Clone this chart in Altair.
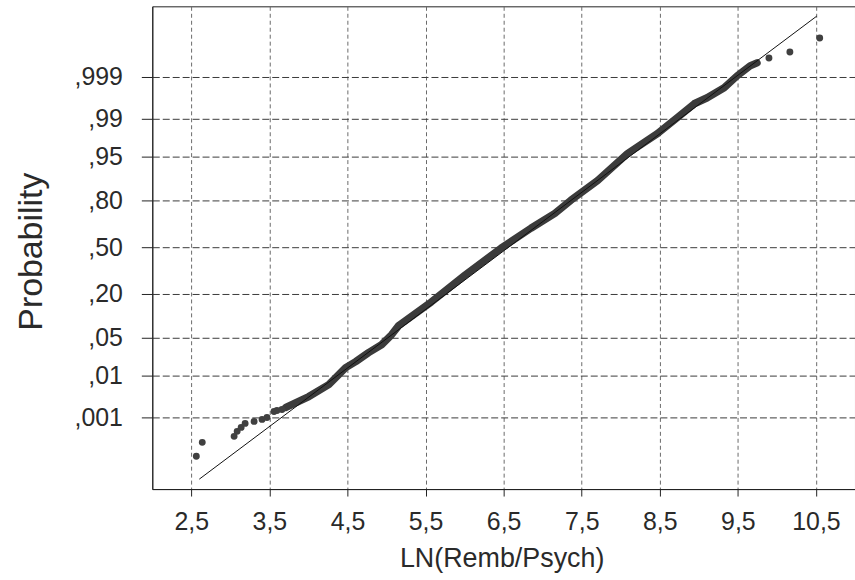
import altair as alt
import pandas as pd

# Normal-score (z) tick positions and their probability labels
prob_ticks_z = [-3.090, -2.326, -1.645, -0.842, 0.0, 0.842, 1.645, 2.326, 3.090]
prob_labels = [",001", ",01", ",05", ",20", ",50", ",80", ",95", ",99", ",999"]
x_ticks = [2.5, 3.5, 4.5, 5.5, 6.5, 7.5, 8.5, 9.5, 10.5]
x_labels = ["2,5", "3,5", "4,5", "5,5", "6,5", "7,5", "8,5", "9,5", "10,5"]

# Dense run of observed points (read along the thick band)
dense_x = [3.712, 4.005, 4.260, 4.477, 4.605, 4.770, 4.936, 5.064, 5.153, 5.574,
           6.008, 6.467, 6.849, 7.156, 7.360, 7.704, 8.087, 8.469, 8.724, 8.941,
           9.107, 9.324, 9.490, 9.656, 9.745]
dense_z = [-2.909, -2.711, -2.494, -2.186, -2.078, -1.915, -1.771, -1.590, -1.428, -0.994,
           -0.506, -0.018, 0.343, 0.614, 0.849, 1.211, 1.699, 2.060, 2.349, 2.602,
           2.711, 2.891, 3.108, 3.289, 3.343]

# Sparse individual points in the tails
tail_x = [2.564, 2.640, 3.048, 3.087, 3.138, 3.189, 3.304, 3.406, 3.469, 3.559,
          3.597, 3.661, 9.898, 10.166, 10.548]
tail_z = [-3.795, -3.542, -3.433, -3.343, -3.271, -3.198, -3.162, -3.126, -3.090, -2.982,
          -2.964, -2.945, 3.433, 3.542, 3.795]

# Reference (expected normal) line end points
ref_x = [2.602, 10.510]
ref_z = [-4.210, 4.192]

dense_df = pd.DataFrame({"x": dense_x, "z": dense_z})
tail_df = pd.DataFrame({"x": tail_x, "z": tail_z})
ref_df = pd.DataFrame({"x": ref_x, "z": ref_z})

def label_expr(vals, labs):
    expr = "''"
    for v, l in reversed(list(zip(vals, labs))):
        expr = f"abs(datum.value - ({v})) < 0.01 ? '{l}' : " + expr
    return expr

FONT = "Liberation Sans"
TXT = "#2a2a2a"

x_scale = alt.Scale(domain=[2.0, 11.0], nice=False, zero=False)
y_scale = alt.Scale(domain=[-4.39, 4.37], nice=False, zero=False)

x_axis = alt.Axis(
    values=x_ticks, labelExpr=label_expr(x_ticks, x_labels),
    title="LN(Remb/Psych)", titleFont=FONT, titleFontSize=27, titleFontWeight="normal",
    titleColor=TXT, titleBaseline="alphabetic", titleY=78, titleX=351,
    labelFont=FONT, labelFontSize=25, labelColor=TXT, labelPadding=14,
    tickSize=7, tickColor="#222", domainColor="#222",
    grid=True, gridColor="#6a6a6a", gridDash=[4, 3], gridWidth=1,
)
y_axis = alt.Axis(
    values=prob_ticks_z, labelExpr=label_expr(prob_ticks_z, prob_labels),
    title="Probability", titleFont=FONT, titleFontSize=34, titleFontWeight="normal",
    titleColor=TXT, titleAngle=270, titleBaseline="alphabetic", titleX=-111, titleY=246,
    titleAlign="center",
    labelFont=FONT, labelFontSize=25, labelColor=TXT, labelPadding=19,
    tickSize=11, tickColor="#222", domainColor="#222",
    grid=True, gridColor="#3a3a3a", gridDash=[7, 3], gridWidth=1,
)

band = alt.Chart(dense_df).mark_line(
    color="#3b3b3b", strokeWidth=7.5, strokeCap="round", strokeJoin="round"
).encode(
    x=alt.X("x:Q", scale=x_scale, axis=x_axis),
    y=alt.Y("z:Q", scale=y_scale, axis=y_axis),
    order="x:Q",
)

ref = alt.Chart(ref_df).mark_line(color="#111", strokeWidth=1).encode(
    x=alt.X("x:Q", scale=x_scale),
    y=alt.Y("z:Q", scale=y_scale),
)

tails = alt.Chart(tail_df).mark_circle(color="#404040", size=48, opacity=1).encode(
    x=alt.X("x:Q", scale=x_scale),
    y=alt.Y("z:Q", scale=y_scale),
)

chart = alt.layer(band, ref, tails).properties(
    width=706, height=485,
    autosize=alt.AutoSizeParams(type="none"),
    padding={"left": 153, "top": 5, "right": 0, "bottom": 90},
    background="white",
).configure_view(stroke="#222", strokeWidth=1)

chart.save("out.html", embed_options={"renderer": "svg", "actions": False})
